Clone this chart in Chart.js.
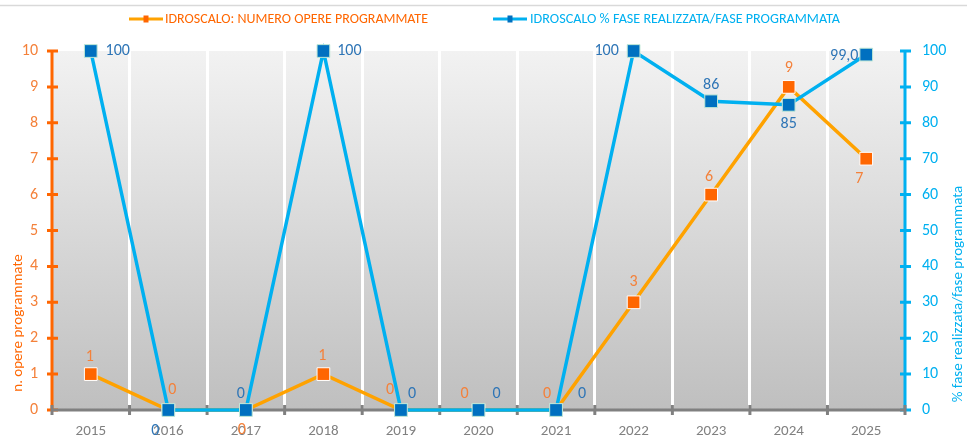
<!DOCTYPE html>
<html>
<head>
<meta charset="utf-8">
<script src="https://cdn.jsdelivr.net/npm/chart.js@4.4.0/dist/chart.umd.min.js"></script>
<style>
  html, body { margin: 0; padding: 0; background: #fff; }
  #wrap { width: 967px; height: 437px; }
</style>
</head>
<body>
<div id="wrap"><canvas id="chart" width="967" height="437"></canvas></div>
<script>
// data
const years = ['2015', '2016', '2017', '2018', '2019', '2020', '2021', '2022', '2023', '2024', '2025'];
const opereProgrammate = [1, 0, 0, 1, 0, 0, 0, 3, 6, 9, 7];
const percFase = [100, 0, 0, 100, 0, 0, 0, 100, 86, 85, 99];
const percLabels = ['100', '0', '0', '100', '0', '0', '0', '100', '86', '85', '99,0'];
const leftTicks = [0, 1, 2, 3, 4, 5, 6, 7, 8, 9, 10];
const rightTicks = [0, 10, 20, 30, 40, 50, 60, 70, 80, 90, 100];

// where each value label sits relative to its marker (dx, dy)
const opereLabelOffsets = [[-1, -17], [4, -20], [-4, 20], [-1, -18], [-11, -20], [-14, -16], [-9, -16], [0, -20], [-2, -18], [0, -19], [-7, 20]];
const percLabelOffsets = [[27, 0], [-13, 21], [-5, -16], [26, 0], [11, -16], [18, -16], [26, -16], [-27, 0], [0, -16], [0, 19], [-22, 1]];

const FONT = 'Carlito, Calibri, Lato, sans-serif';
const ORANGE = '#FF6600';
const ORANGE_LINE = '#FFA200';
const ORANGE_TEXT = '#F4813A';
const CYAN = '#00B0F0';
const BLUE = '#0070C0';
const BLUE_TEXT = '#2E75B6';
const GREY = '#808080';

const backdrop = {
  id: 'backdrop',
  beforeDraw(chart) {
    const { ctx, chartArea: a } = chart;
    ctx.save();
    ctx.fillStyle = '#fff';
    ctx.fillRect(0, 0, chart.width, chart.height);
    ctx.strokeStyle = '#d9d9d9';
    ctx.lineWidth = 1.5;
    ctx.beginPath();
    ctx.moveTo(0, 5.5);
    ctx.lineTo(chart.width, 5.5);
    ctx.stroke();
    const g = ctx.createLinearGradient(0, a.top, 0, a.bottom);
    g.addColorStop(0, '#f2f2f2');
    g.addColorStop(1, '#bfbfbf');
    ctx.fillStyle = g;
    ctx.fillRect(a.left, a.top, a.right - a.left, a.bottom - a.top);
    ctx.restore();
  }
};

const axesLines = {
  id: 'axesLines',
  beforeDatasetsDraw(chart) {
    const { ctx, chartArea: a, scales } = chart;
    ctx.save();
    ctx.lineWidth = 3;
    // left axis
    ctx.strokeStyle = ORANGE;
    ctx.beginPath();
    ctx.moveTo(a.left, a.top - 1.5);
    ctx.lineTo(a.left, a.bottom);
    leftTicks.forEach(v => {
      const y = scales.y.getPixelForValue(v);
      ctx.moveTo(a.left - 5, y);
      ctx.lineTo(a.left + 6, y);
    });
    ctx.stroke();
    // right axis
    ctx.strokeStyle = CYAN;
    ctx.beginPath();
    ctx.moveTo(a.right, a.top - 1.5);
    ctx.lineTo(a.right, a.bottom);
    rightTicks.forEach(v => {
      const y = scales.y1.getPixelForValue(v);
      ctx.moveTo(a.right - 5, y);
      ctx.lineTo(a.right + 6, y);
    });
    ctx.stroke();
    // x axis
    ctx.strokeStyle = GREY;
    ctx.beginPath();
    ctx.moveTo(a.left, a.bottom);
    ctx.lineTo(a.right, a.bottom);
    const step = (a.right - a.left) / years.length;
    for (let i = 0; i <= years.length; i++) {
      const x = a.left + i * step;
      ctx.moveTo(x, a.bottom - 5);
      ctx.lineTo(x, a.bottom + 5);
    }
    ctx.stroke();
    ctx.restore();
  }
};

const valueLabels = {
  id: 'valueLabels',
  afterDatasetsDraw(chart) {
    const { ctx } = chart;
    ctx.save();
    ctx.font = '16px ' + FONT;
    ctx.textAlign = 'center';
    ctx.textBaseline = 'middle';
    const sets = [
      { idx: 0, texts: opereProgrammate.map(String), offs: opereLabelOffsets, color: ORANGE_TEXT },
      { idx: 1, texts: percLabels, offs: percLabelOffsets, color: BLUE_TEXT }
    ];
    sets.forEach(s => {
      const meta = chart.getDatasetMeta(s.idx);
      ctx.fillStyle = s.color;
      meta.data.forEach((pt, i) => {
        ctx.fillText(s.texts[i], pt.x + s.offs[i][0], pt.y + s.offs[i][1]);
      });
    });
    ctx.restore();
  }
};

function fitText(ctx, text, x, y, width) {
  const w = ctx.measureText(text).width;
  ctx.save();
  ctx.translate(x, y);
  ctx.scale(width / w, 1);
  ctx.fillText(text, 0, 0);
  ctx.restore();
}

const legendAndTitles = {
  id: 'legendAndTitles',
  afterDraw(chart) {
    const { ctx } = chart;
    ctx.save();
    ctx.textBaseline = 'middle';
    ctx.textAlign = 'left';
    ctx.font = '14px ' + FONT;
    const items = [
      { x0: 129, x1: 163, tx: 165, tw: 263, line: ORANGE_LINE, mark: ORANGE, color: ORANGE, text: chart.data.datasets[0].label },
      { x0: 493, x1: 527, tx: 530, tw: 310, line: CYAN, mark: BLUE, color: CYAN, text: chart.data.datasets[1].label }
    ];
    const ly = 19;
    items.forEach(it => {
      ctx.strokeStyle = it.line;
      ctx.lineWidth = 3;
      ctx.beginPath();
      ctx.moveTo(it.x0, ly);
      ctx.lineTo(it.x1, ly);
      ctx.stroke();
      ctx.fillStyle = it.mark;
      ctx.fillRect((it.x0 + it.x1) / 2 - 2.5, ly - 3.5, 5, 7);
      ctx.fillStyle = it.color;
      fitText(ctx, it.text, it.tx, ly, it.tw);
    });
    // axis titles
    ctx.font = '15px ' + FONT;
    ctx.textAlign = 'center';
    ctx.fillStyle = ORANGE;
    ctx.save();
    ctx.translate(18, 323);
    ctx.rotate(-Math.PI / 2);
    ctx.fillText('n. opere programmate', 0, 0);
    ctx.restore();
    ctx.fillStyle = CYAN;
    ctx.save();
    ctx.translate(958, 294);
    ctx.rotate(-Math.PI / 2);
    ctx.fillText('% fase realizzata/fase programmata', 0, 0);
    ctx.restore();
    ctx.restore();
  }
};

new Chart(document.getElementById('chart').getContext('2d'), {
  type: 'line',
  data: {
    labels: years,
    datasets: [
      {
        label: 'IDROSCALO: NUMERO OPERE PROGRAMMATE',
        data: opereProgrammate,
        yAxisID: 'y',
        order: 1,
        borderColor: ORANGE_LINE,
        borderWidth: 3.5,
        pointStyle: 'rect',
        pointRadius: 9,
        pointHoverRadius: 9,
        pointBackgroundColor: ORANGE,
        pointBorderColor: '#ffffff',
        pointBorderWidth: 1,
        tension: 0,
        clip: false
      },
      {
        label: 'IDROSCALO % FASE REALIZZATA/FASE PROGRAMMATA',
        data: percFase,
        yAxisID: 'y1',
        order: 0,
        borderColor: CYAN,
        borderWidth: 3.5,
        pointStyle: 'rect',
        pointRadius: 9,
        pointHoverRadius: 9,
        pointBackgroundColor: BLUE,
        pointBorderColor: '#bfe8d6',
        pointBorderWidth: 1,
        tension: 0,
        clip: false
      }
    ]
  },
  options: {
    responsive: false,
    animation: false,
    devicePixelRatio: 1,
    layout: { padding: { top: 51, left: 0, right: 0, bottom: 0 } },
    plugins: {
      legend: { display: false },
      tooltip: { enabled: false }
    },
    scales: {
      x: {
        offset: true,
        afterFit: s => { s.height = 27; },
        border: { display: false },
        grid: {
          offset: true,
          drawTicks: false,
          lineWidth: 3,
          color: c => (c.index === 0 || c.index === years.length) ? 'rgba(0,0,0,0)' : '#ffffff'
        },
        ticks: { color: GREY, padding: 12, font: { family: FONT, size: 15 } }
      },
      y: {
        position: 'left',
        min: 0,
        max: 10,
        afterFit: s => { s.width = 52; },
        border: { display: false },
        grid: { display: false, drawTicks: false },
        ticks: { stepSize: 1, color: ORANGE_TEXT, padding: 14, font: { family: FONT, size: 16 } }
      },
      y1: {
        position: 'right',
        min: 0,
        max: 100,
        afterFit: s => { s.width = 62; },
        border: { display: false },
        grid: { display: false, drawTicks: false },
        ticks: { stepSize: 10, color: CYAN, padding: 17, font: { family: FONT, size: 16 } }
      }
    }
  },
  plugins: [backdrop, axesLines, valueLabels, legendAndTitles]
});
</script>
</body>
</html>
